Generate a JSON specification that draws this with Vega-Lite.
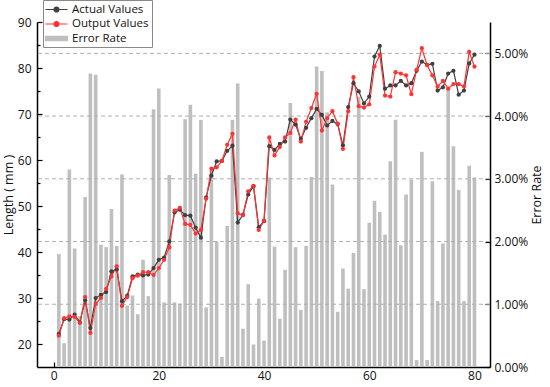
{
  "$schema": "https://vega.github.io/schema/vega-lite/v6.json",
  "width": 453,
  "height": 345,
  "autosize": "none",
  "padding": {"left": 37, "top": 22, "right": 60, "bottom": 20},
  "background": "white",
  "config": {
    "view": {"stroke": null},
    "font": "Open Sans",
    "axis": {
      "labelFont": "Open Sans", "labelFontSize": 12, "labelColor": "#111",
      "titleFont": "Open Sans", "titleFontSize": 12.5, "titleFontWeight": "normal", "titleColor": "#111",
      "domainColor": "#000", "domainWidth": 1.5, "tickColor": "#000", "tickWidth": 1.2, "grid": false
    }
  },
  "datasets": {
    "main": [
      {"x":1,"actual":22.2,"output":21.8,"rate":0.0180},
      {"x":2,"actual":25.4,"output":25.6,"rate":0.0038},
      {"x":3,"actual":25.3,"output":26.0,"rate":0.0315},
      {"x":4,"actual":26.4,"output":25.9,"rate":0.0189},
      {"x":5,"actual":24.7,"output":24.6,"rate":0.0081},
      {"x":6,"actual":29.5,"output":30.2,"rate":0.0271},
      {"x":7,"actual":23.5,"output":22.4,"rate":0.0468},
      {"x":8,"actual":30.0,"output":28.7,"rate":0.0466},
      {"x":9,"actual":30.7,"output":30.0,"rate":0.0195},
      {"x":10,"actual":31.3,"output":32.0,"rate":0.0191},
      {"x":11,"actual":35.8,"output":34.7,"rate":0.0252},
      {"x":12,"actual":36.2,"output":36.9,"rate":0.0193},
      {"x":13,"actual":29.3,"output":28.3,"rate":0.0307},
      {"x":14,"actual":30.5,"output":30.2,"rate":0.0098},
      {"x":15,"actual":34.7,"output":34.3,"rate":0.0114},
      {"x":16,"actual":35.1,"output":34.85,"rate":0.0084},
      {"x":17,"actual":34.9,"output":35.6,"rate":0.0171},
      {"x":18,"actual":35.1,"output":35.6,"rate":0.0113},
      {"x":19,"actual":36.5,"output":35.0,"rate":0.0411},
      {"x":20,"actual":38.3,"output":36.5,"rate":0.0444},
      {"x":21,"actual":38.8,"output":38.3,"rate":0.0103},
      {"x":22,"actual":42.3,"output":41.0,"rate":0.0306},
      {"x":23,"actual":48.6,"output":49.0,"rate":0.0103},
      {"x":24,"actual":49.2,"output":49.6,"rate":0.0101},
      {"x":25,"actual":48.0,"output":46.1,"rate":0.0395},
      {"x":26,"actual":47.9,"output":45.9,"rate":0.0418},
      {"x":27,"actual":45.3,"output":44.0,"rate":0.0308},
      {"x":28,"actual":43.1,"output":44.8,"rate":0.0394},
      {"x":29,"actual":51.9,"output":51.6,"rate":0.0095},
      {"x":30,"actual":56.6,"output":58.1,"rate":0.0315},
      {"x":31,"actual":59.7,"output":58.4,"rate":0.0200},
      {"x":32,"actual":59.8,"output":59.8,"rate":0.0016},
      {"x":33,"actual":62.0,"output":63.3,"rate":0.0225},
      {"x":34,"actual":63.1,"output":65.7,"rate":0.0394},
      {"x":35,"actual":46.4,"output":48.4,"rate":0.0452},
      {"x":36,"actual":48.1,"output":48.0,"rate":0.0061},
      {"x":37,"actual":52.5,"output":53.2,"rate":0.0132},
      {"x":38,"actual":54.3,"output":54.4,"rate":0.0036},
      {"x":39,"actual":45.4,"output":44.8,"rate":0.0109},
      {"x":40,"actual":46.7,"output":46.8,"rate":0.0042},
      {"x":41,"actual":63.0,"output":64.9,"rate":0.0302},
      {"x":42,"actual":62.2,"output":61.0,"rate":0.0192},
      {"x":43,"actual":63.5,"output":62.8,"rate":0.0077},
      {"x":44,"actual":64.0,"output":64.9,"rate":0.0155},
      {"x":45,"actual":68.8,"output":65.9,"rate":0.0421},
      {"x":46,"actual":67.7,"output":68.8,"rate":0.0191},
      {"x":47,"actual":64.6,"output":64.0,"rate":0.0091},
      {"x":48,"actual":67.0,"output":68.3,"rate":0.0193},
      {"x":49,"actual":69.1,"output":71.3,"rate":0.0303},
      {"x":50,"actual":71.1,"output":74.4,"rate":0.0479},
      {"x":51,"actual":69.8,"output":66.4,"rate":0.0472},
      {"x":52,"actual":67.5,"output":69.1,"rate":0.0406},
      {"x":53,"actual":68.5,"output":70.6,"rate":0.0291},
      {"x":54,"actual":67.8,"output":67.9,"rate":0.0088},
      {"x":55,"actual":63.2,"output":62.4,"rate":0.0157},
      {"x":56,"actual":71.5,"output":70.6,"rate":0.0125},
      {"x":57,"actual":76.7,"output":78.0,"rate":0.0182},
      {"x":58,"actual":74.9,"output":71.7,"rate":0.0431},
      {"x":59,"actual":72.3,"output":71.4,"rate":0.0124},
      {"x":60,"actual":73.8,"output":72.1,"rate":0.0230},
      {"x":61,"actual":82.5,"output":80.3,"rate":0.0265},
      {"x":62,"actual":84.8,"output":82.9,"rate":0.0247},
      {"x":63,"actual":75.5,"output":74.0,"rate":0.0211},
      {"x":64,"actual":76.2,"output":73.8,"rate":0.0328},
      {"x":65,"actual":76.2,"output":79.1,"rate":0.0394},
      {"x":66,"actual":77.2,"output":78.8,"rate":0.0194},
      {"x":67,"actual":76.2,"output":78.4,"rate":0.0275},
      {"x":68,"actual":76.7,"output":74.3,"rate":0.0299},
      {"x":69,"actual":79.4,"output":79.6,"rate":0.0011},
      {"x":70,"actual":81.4,"output":84.3,"rate":0.0343},
      {"x":71,"actual":80.7,"output":80.6,"rate":0.0011},
      {"x":72,"actual":80.9,"output":78.4,"rate":0.0296},
      {"x":73,"actual":75.1,"output":76.0,"rate":0.0105},
      {"x":74,"actual":75.8,"output":77.2,"rate":0.0197},
      {"x":75,"actual":78.8,"output":75.5,"rate":0.0443},
      {"x":76,"actual":79.4,"output":76.5,"rate":0.0352},
      {"x":77,"actual":74.2,"output":76.5,"rate":0.0282},
      {"x":78,"actual":75.1,"output":76.0,"rate":0.0105},
      {"x":79,"actual":81.0,"output":83.5,"rate":0.0321},
      {"x":80,"actual":82.9,"output":80.3,"rate":0.0302}
    ],
    "grid": [{"rate":0.01},{"rate":0.02},{"rate":0.03},{"rate":0.04},{"rate":0.05}]
  },
  "layer": [
    {
      "layer": [
        {
          "data": {"name": "main"},
          "mark": {"type": "bar", "size": 3.6},
          "encoding": {
            "x": {
              "field": "x", "type": "quantitative",
              "scale": {"domain": [-2.2, 82], "nice": false, "zero": false},
              "axis": {
                "title": null, "orient": "bottom",
                "values": [0,10,20,30,40,50,60,70,80],
                "labelExpr": "datum.value % 20 === 0 ? datum.label : ''",
                "tickSize": {"condition": {"test": "datum.value % 20 === 0", "value": -5}, "value": -3},
                "labelPadding": 8
              }
            },
            "y": {
              "field": "rate", "type": "quantitative",
              "scale": {"domain": [0, 0.055], "nice": false},
              "axis": {
                "orient": "right", "title": "Error Rate", "titleAngle": -90,
                "values": [0,0.005,0.01,0.015,0.02,0.025,0.03,0.035,0.04,0.045,0.05,0.055],
                "labelExpr": "round(datum.value*200) % 2 === 0 && datum.value < 0.052 ? format(datum.value, '.2%') : ''",
                "tickSize": {"condition": {"test": "round(datum.value*200) % 2 === 0", "value": -5}, "value": -3},
                "labelPadding": 9, "titlePadding": 16
              }
            },
            "color": {
              "datum": "rate",
              "title": null,
              "scale": {"domain": ["actual", "output", "rate"], "range": ["#404040", "#ff3333", "#bfbfbf"]},
              "legend": {
                "title": null, "orient": "none", "legendX": 6, "legendY": -22,
                "strokeColor": "#888", "fillColor": "white", "padding": 3,
                "labelFont": "Open Sans", "labelFontSize": 11.5, "labelColor": "#111",
                "labelExpr": "datum.label === 'actual' ? 'Actual Values' : datum.label === 'output' ? 'Output Values' : 'Error Rate'",
                "symbolSize": 121, "symbolOffset": 4, "labelOffset": 9, "rowPadding": 2.5,
                "symbolStrokeWidth": 1.2,
                "encode": {
                  "symbols": {
                    "update": {
                      "shape": {"signal": "datum.value === 'rate' ? 'M-2,-0.4H2V0.4H-2Z' : 'M-2,0H2M-0.45,0A0.45,0.45 0 1,0 0.45,0A0.45,0.45 0 1,0 -0.45,0'"},
                      "fill": {"scale": "color", "field": "value"},
                      "stroke": {"scale": "color", "field": "value"},
                      "opacity": {"value": 1}
                    }
                  }
                }
              }
            }
          }
        },
        {
          "data": {"name": "grid"},
          "mark": {"type": "rule", "color": "#b0b0b0", "strokeDash": [4, 3], "strokeWidth": 1},
          "encoding": {
            "y": {"field": "rate", "type": "quantitative"}
          }
        }
      ]
    },
    {
      "data": {"name": "main"},
      "transform": [{"fold": ["actual", "output"], "as": ["series", "len"]}],
      "mark": {"type": "line", "strokeWidth": 1.2, "point": {"filled": true, "size": 18}},
      "encoding": {
        "x": {"field": "x", "type": "quantitative"},
        "y": {
          "field": "len", "type": "quantitative",
          "scale": {"domain": [15, 90], "nice": false, "zero": false},
          "axis": {
            "orient": "left", "title": "Length ( mm )",
            "values": [20,25,30,35,40,45,50,55,60,65,70,75,80,85,90],
            "labelExpr": "datum.value % 10 === 0 ? datum.label : ''",
            "tickSize": {"condition": {"test": "datum.value % 10 === 0", "value": -5}, "value": -3},
            "labelPadding": 11, "titlePadding": 2
          }
        },
        "color": {"field": "series", "type": "nominal", "title": null, "legend": {"title": null}}
      }
    }
  ],
  "resolve": {"scale": {"y": "independent"}}
}
